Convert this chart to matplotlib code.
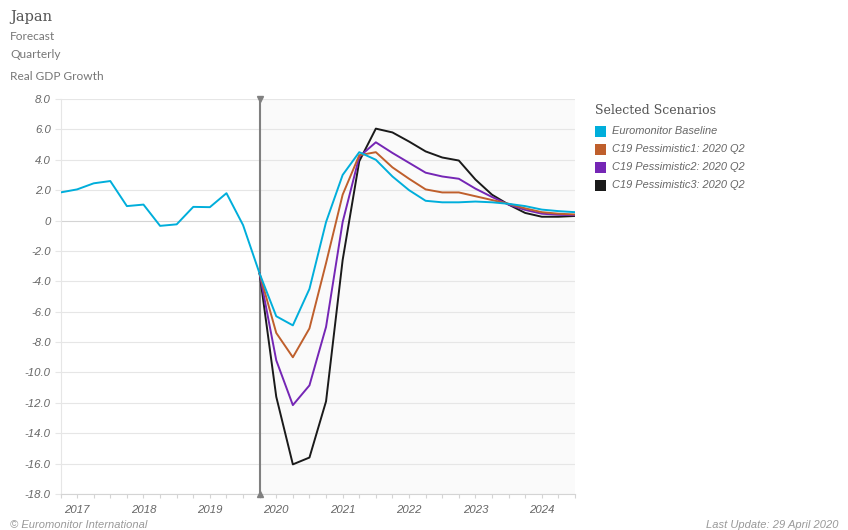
import matplotlib
matplotlib.use('Agg')
import matplotlib.pyplot as plt
import numpy as np
from matplotlib.patches import Rectangle

W, H = 848, 530

# Quarterly values, 2017 Q1 to 2024 Q4
history = [1.85, 2.05, 2.45, 2.6, 0.95, 1.05, -0.35, -0.25, 0.9, 0.88, 1.8, -0.3]
baseline = [-3.5, -6.3, -6.9, -4.5, -0.1, 3.0, 4.5, 4.0, 2.9, 2.0, 1.3, 1.2,
            1.2, 1.25, 1.2, 1.1, 0.95, 0.72, 0.62, 0.55]
pess1 = [-3.5, -7.4, -9.0, -7.1, -2.8, 1.7, 4.3, 4.5, 3.5, 2.75, 2.05, 1.85,
         1.85, 1.6, 1.35, 1.1, 0.8, 0.55, 0.45, 0.4]
pess2 = [-3.5, -9.2, -12.15, -10.85, -7.0, -0.1, 4.2, 5.15, 4.45, 3.8, 3.15, 2.9,
         2.75, 2.1, 1.55, 1.05, 0.7, 0.45, 0.38, 0.35]
pess3 = [-3.5, -11.6, -16.05, -15.6, -11.9, -2.6, 3.9, 6.05, 5.8, 5.2, 4.55, 4.15,
         3.95, 2.7, 1.7, 1.05, 0.5, 0.25, 0.25, 0.3]

years = ['2017', '2018', '2019', '2020', '2021', '2022', '2023', '2024']
y_ticks = list(range(-18, 10, 2))
scenario_names = ['Euromonitor Baseline', 'C19 Pessimistic1: 2020 Q2',
                  'C19 Pessimistic2: 2020 Q2', 'C19 Pessimistic3: 2020 Q2']
colours = ['#00aedb', '#bf5f2c', '#7526b5', '#1a1a1a']

text_grey = '#666666'
grid_grey = '#e6e6e6'
line_w = 1.4

fig = plt.figure(figsize=(W / 100, H / 100), dpi=100)
ax = fig.add_axes([60.5 / W, 1 - 494 / H, 514.5 / W, 395 / H])

forecast_start = len(history)
n_quarters = forecast_start + len(baseline) - 1
x_hist = np.arange(forecast_start + 1)
x_fc = np.arange(forecast_start, n_quarters + 1)

# Shaded forecast region
ax.axvspan(forecast_start, n_quarters, color='#fafafa', zorder=0, linewidth=0)

for v in y_ticks:
    if v == 0:
        ax.axhline(v, color='#d4d4d4', linewidth=0.8, zorder=1)
    else:
        ax.axhline(v, color=grid_grey, linewidth=0.8, zorder=1)

ax.plot(x_hist, history + baseline[:1], color=colours[0], linewidth=line_w, zorder=3)
ax.plot(x_fc, pess3, color=colours[3], linewidth=line_w, zorder=3)
ax.plot(x_fc, pess2, color=colours[2], linewidth=line_w, zorder=4)
ax.plot(x_fc, pess1, color=colours[1], linewidth=line_w, zorder=5)
ax.plot(x_fc, baseline, color=colours[0], linewidth=line_w, zorder=6)

# Forecast divider with its two small triangles
ax.axvline(forecast_start, color='#808080', linewidth=1.5, zorder=2)
ax.plot([forecast_start], [8.0], marker='v', color='#808080', markersize=5, clip_on=False, zorder=8)
ax.plot([forecast_start], [-18.0], marker='^', color='#808080', markersize=5, clip_on=False, zorder=8)

ax.set_xlim(0, n_quarters)
ax.set_ylim(-18, 8)
ax.set_yticks(y_ticks)
ax.set_yticklabels(['0' if v == 0 else '%.1f' % v for v in y_ticks],
                   family='Liberation Sans', style='italic', fontsize=8.2, color=text_grey)
ax.set_xticks(np.arange(0, n_quarters + 1))
ax.set_xticklabels([])
ax.tick_params(axis='y', length=4, color=grid_grey, width=0.8, pad=3)
ax.tick_params(axis='x', length=3, color='#d4d4d4', width=0.8)

for i, year in enumerate(years):
    ax.text(1 + 4 * i, -19.05, year, family='Liberation Sans', style='italic', fontsize=8.2,
            color=text_grey, ha='center', va='center')

for side in ['top', 'right']:
    ax.spines[side].set_visible(False)
ax.spines['left'].set_color(grid_grey)
ax.spines['left'].set_linewidth(0.8)
ax.spines['bottom'].set_color('#d4d4d4')
ax.spines['bottom'].set_linewidth(0.8)


def px_text(x, y, s, **kw):
    fig.text(x / W, 1 - y / H, s, va='center', **kw)


px_text(10, 17, 'Japan', family='DejaVu Serif', fontsize=10.5, color='#555555')
px_text(10, 37, 'Forecast', family='Lato', fontsize=8.6, color='#777777')
px_text(10, 55, 'Quarterly', family='Lato', fontsize=8.6, color='#777777')
px_text(10, 77, 'Real GDP Growth', family='Lato', fontsize=8.6, color='#777777')

px_text(595, 110.5, 'Selected Scenarios', family='DejaVu Serif', fontsize=9, color='#555555')
for i, (name, colour) in enumerate(zip(scenario_names, colours)):
    y = 131 + 18 * i
    fig.add_artist(Rectangle((595 / W, 1 - (y + 5.5) / H), 11 / W, 11 / H,
                             transform=fig.transFigure, color=colour, linewidth=0))
    px_text(612, y + 0.5, name, family='Liberation Sans', style='italic', fontsize=7.9, color=text_grey)

px_text(10, 525, '\u00a9 Euromonitor International', family='Liberation Sans', style='italic',
        fontsize=8, color='#999999')
px_text(838, 525, 'Last Update: 29 April 2020', family='Liberation Sans', style='italic',
        fontsize=8, color='#999999', ha='right')

fig.savefig('out.png', dpi=100)
